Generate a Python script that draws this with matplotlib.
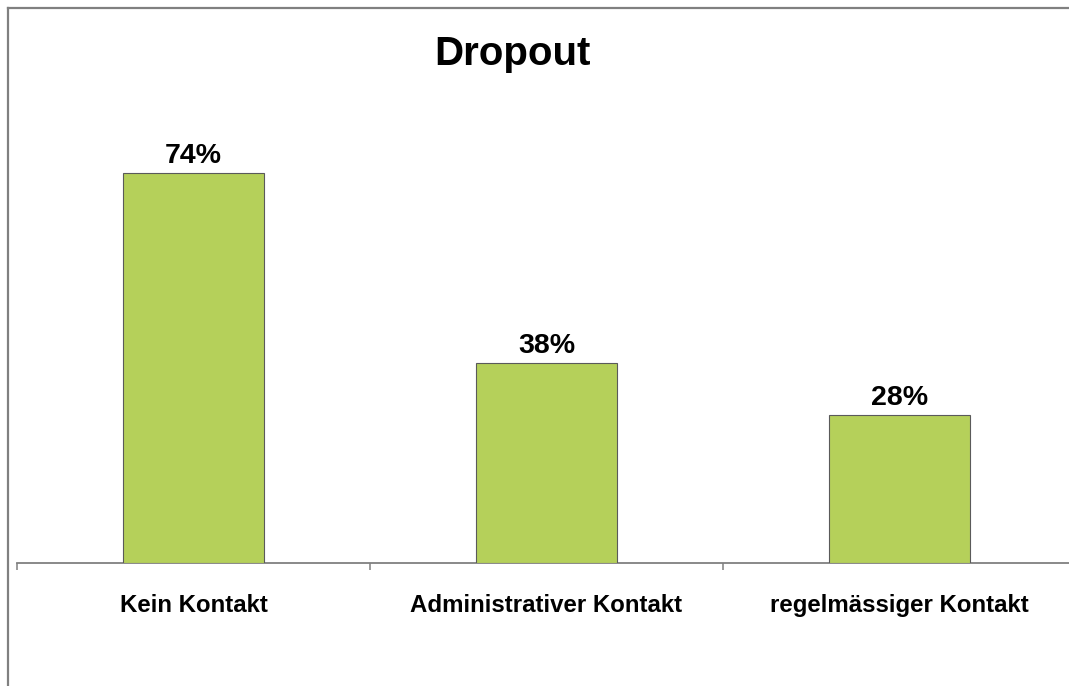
import matplotlib.pyplot as plt
from matplotlib.lines import Line2D

# data
categories = ["Kein Kontakt", "Administrativer Kontakt", "regelmässiger Kontakt"]
dropout = [74, 38, 28]

plt.rcParams['font.family'] = ['Liberation Sans', 'DejaVu Sans']

W, H = 1069, 686
fig = plt.figure(figsize=(W / 100, H / 100), dpi=100)

# outer frame (only left and top visible in the crop)
fig.add_artist(Line2D([8 / W, 8 / W], [0, 1 - 8 / H], color="#808080", lw=1.6))
fig.add_artist(Line2D([8 / W, 1], [1 - 8 / H, 1 - 8 / H], color="#808080", lw=1.6))

# axes: left at 17px, baseline at 563px, 3 categories of 353px each
ax = fig.add_axes([17 / W, (H - 563) / H, 3 * 353 / W, 527 / H])
ax.set_xlim(-0.5, 2.5)
ax.set_ylim(0, 100)

x = list(range(len(categories)))
ax.bar(x, dropout, width=0.4, color="#b5d05a", edgecolor="#5a5a5a", linewidth=0.8, zorder=3)

for xi, v in zip(x, dropout):
    ax.annotate(f"{v}%", (xi, v), xytext=(0, 3), textcoords="offset points",
                ha="center", va="bottom", fontsize=20.5, fontweight="bold")

for s in ["left", "right", "top"]:
    ax.spines[s].set_visible(False)
ax.spines["bottom"].set_color("#808080")
ax.spines["bottom"].set_linewidth(1.3)
ax.set_yticks([])

ax.set_xticks([-0.5, 0.5, 1.5, 2.5])
ax.set_xticklabels([])
ax.tick_params(axis="x", which="major", direction="out", length=5, color="#808080", width=1.1)
ax.set_xticks(x, minor=True)
ax.set_xticklabels(categories, minor=True, fontsize=17.3, fontweight="bold")
ax.tick_params(axis="x", which="minor", length=0, pad=22)

fig.text(512 / W, 1 - 54 / H, "Dropout", ha="center", va="center", fontsize=29, fontweight="bold")

fig.savefig("out.png", dpi=100)
